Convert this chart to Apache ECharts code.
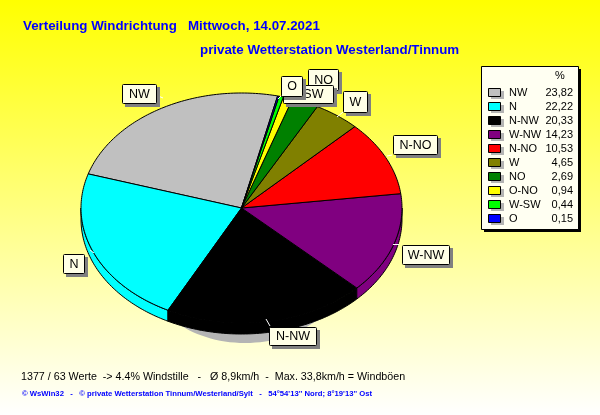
<!DOCTYPE html>
<html><head><meta charset="utf-8">
<style>html,body{margin:0;padding:0;background:#fff}#c{width:600px;height:415px}</style>
<script src="https://cdn.jsdelivr.net/npm/echarts@6/dist/echarts.min.js"></script>
</head><body><div id="c"></div>
<script>
const directions = ['NW','N','N-NW','W-NW','N-NO','W','NO','O-NO','W-SW','O'];
const shares = [23.82,22.22,20.33,14.23,10.53,4.65,2.69,0.94,0.44,0.15];
const shareLabels = ['23,82','22,22','20,33','14,23','10,53','4,65','2,69','0,94','0,44','0,15'];
const sliceColors = ['#C0C0C0','#00FFFF','#000000','#800080','#FF0000','#808000','#008000','#FFFF00','#00FF00','#0000FF'];
const titleLine1 = 'Verteilung Windrichtung   Mittwoch, 14.07.2021';
const titleLine2 = 'private Wetterstation Westerland/Tinnum';
const footerStats = '1377 / 63 Werte  -> 4.4% Windstille   -   Ø 8,9km/h  -  Max. 33,8km/h = Windböen';
const footerCredit = '© WsWin32   -   © private Wetterstation Tinnum/Westerland/Sylt   -   54°54\'13\'\' Nord; 8°19\'13\'\' Ost';

// layout
const PIE = {cx:241.5, cy:208, rx:160.5, ry:115, depth:11, start:13};
const labelBoxes = {
  'NW':[122,84,156,103], 'N':[63,254,84,273], 'N-NW':[269,327,316,345], 'W-NW':[402,245,449,264],
  'N-NO':[393,135,437,154], 'W':[343,91,367,112], 'NO':[308,69,338,90], 'W-SW':[283,85,333,103], 'O':[281,76,302,96]
};
const labelTextShift = {'W-SW':-3};
const leaders = {
  'NW':[156,95,163,98], 'N':[90,250,94,253], 'N-NW':[266,319,270,326], 'W-NW':[393,244.5,399,244.5],
  'N-NO':[387,156,392,155], 'W':[337,117,343,112], 'O':[281,96,278,99]
};
const labelStack = {'NO':1,'W-SW':2,'O':3};

function pt(deg, dy){
  const a = deg*Math.PI/180;
  return [PIE.cx + PIE.rx*Math.sin(a), PIE.cy - PIE.ry*Math.cos(a) + (dy||0)];
}
function arc(a,b,dy){
  const n = Math.max(2, Math.ceil(Math.abs(b-a))), out = [];
  for(let i=0;i<=n;i++) out.push(pt(a+(b-a)*i/n, dy));
  return out;
}
const total = shares.reduce((s,v)=>s+v,0);

function renderSlice(params, api){
  const i = params.dataIndex;
  const v = api.value(0);
  let before = 0;
  for(let k=0;k<i;k++) before += shares[k];
  let b = PIE.start - before/total*360;
  let a = b - v/total*360;
  if(a<0){a+=360;b+=360;}
  const children = [];
  const color = sliceColors[i];
  const line = {stroke:'#000', lineWidth:1};
  const lo = Math.max(a,90), hi = Math.min(b,270);
  if(hi>lo){
    const top = arc(lo,hi,0), bot = arc(hi,lo,PIE.depth);
    children.push({type:'polygon', z2:1, shape:{points:top.concat(bot)},
      style:Object.assign({fill:color},line)});
  }
  const face = [[PIE.cx,PIE.cy]].concat(arc(a,b,0));
  children.push({type:'polygon', z2:2+i*0.01, shape:{points:face}, style:Object.assign({fill:color},line)});

  const name = directions[i];
  const lead = leaders[name];
  if(lead) children.push({type:'line', z2:5, shape:{x1:lead[0],y1:lead[1],x2:lead[2],y2:lead[3]}, style:{stroke:'#fff',lineWidth:1}});
  const box = labelBoxes[name];
  if(box){
    const s = 10 + (labelStack[name]||0)*10;
    const w = box[2]-box[0], h = box[3]-box[1];
    children.push({type:'rect', z2:s, shape:{x:box[0]+3,y:box[1]+3,width:w+1,height:h+1}, style:{fill:'#808080'}});
    children.push({type:'rect', z2:s+1, shape:{x:box[0]+.5,y:box[1]+.5,width:w,height:h,r:1}, style:{fill:'#FFFFE6',stroke:'#000',lineWidth:1}});
    children.push({type:'text', z2:s+2, style:{x:box[0]+w/2+.5+(labelTextShift[name]||0),y:box[1]+h/2+1,text:name,fill:'#000',
      font:'12.5px "Liberation Sans"',align:'center',verticalAlign:'middle'}});
  }
  return {type:'group', children};
}

const legendX = 481, legendY = 66;
const legendGraphics = [
  {type:'rect', z:1, shape:{x:legendX+3,y:legendY+3,width:97,height:163}, style:{fill:'#000'}},
  {type:'rect', z:2, shape:{x:legendX+.5,y:legendY+.5,width:97,height:163}, style:{fill:'#FFFFF2',stroke:'#000',lineWidth:1}},
  {type:'text', z:3, style:{x:560,y:76,text:'%',fill:'#000',font:'11px "Liberation Sans"',align:'center',verticalAlign:'middle'}}
];
directions.forEach((d,i)=>{
  const y = 88 + i*14;
  legendGraphics.push(
    {type:'rect', z:3, shape:{x:491,y:y+3,width:13,height:8}, style:{fill:'#B4B4B4'}},
    {type:'rect', z:4, shape:{x:488.5,y:y+.5,width:12,height:8}, style:{fill:sliceColors[i],stroke:'#000',lineWidth:1}},
    {type:'text', z:4, style:{x:509,y:y+5,text:d,fill:'#000',font:'11px "Liberation Sans"',align:'left',verticalAlign:'middle'}},
    {type:'text', z:4, style:{x:573,y:y+5,text:shareLabels[i],fill:'#000',font:'11px "Liberation Sans"',align:'right',verticalAlign:'middle'}}
  );
});

const chart = echarts.init(document.getElementById('c'));
chart.setOption({
  animation:false,
  backgroundColor:{type:'linear',x:0,y:0,x2:0,y2:1,colorStops:[{offset:0,color:'#FFFF00'},{offset:1,color:'#FFFFFF'}]},
  title:[
    {text:titleLine1,left:18,top:15,textStyle:{color:'#0000FF',fontFamily:'Liberation Sans',fontWeight:'bold',fontSize:13.33}},
    {text:titleLine2,left:195,top:39,textStyle:{color:'#0000FF',fontFamily:'Liberation Sans',fontWeight:'bold',fontSize:13.33}}
  ],
  graphic:legendGraphics.concat([
    {type:'ellipse', z:-1, shape:{cx:245,cy:268,rx:100,ry:75}, style:{fill:'#B4B4B4'}},
    {type:'text', style:{x:21,y:377,text:footerStats,fill:'#000',font:'10.7px "Liberation Sans"',align:'left',verticalAlign:'middle'}},
    {type:'text', style:{x:22,y:394,text:footerCredit,fill:'#0000FF',font:'bold 7.7px "Liberation Sans"',align:'left',verticalAlign:'middle'}}
  ]),
  series:[{type:'custom',coordinateSystem:'none',silent:true,clip:false,z:3,
    data:shares.map((v,i)=>({name:directions[i],value:[v]})),
    renderItem:renderSlice}]
});
</script></body></html>
